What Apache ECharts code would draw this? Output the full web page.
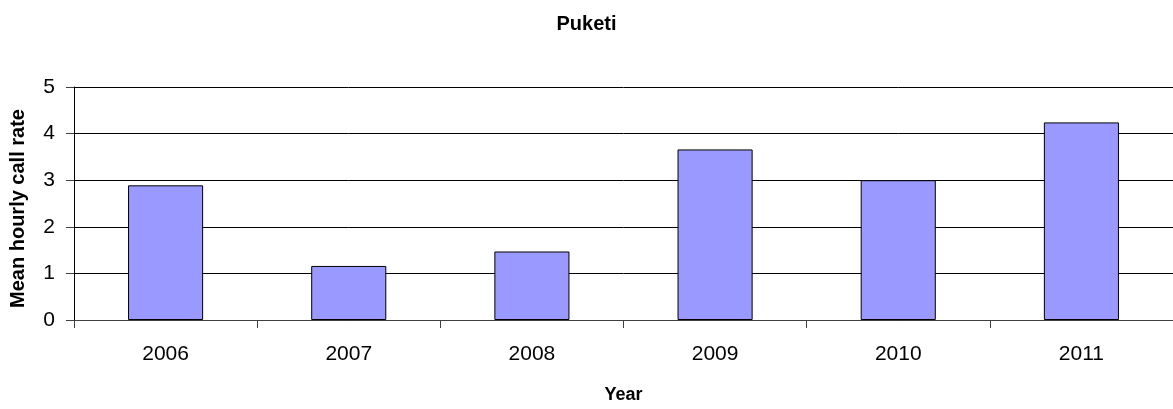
<!DOCTYPE html>
<html>
<head>
<meta charset="utf-8">
<script src="https://cdn.jsdelivr.net/npm/echarts@6/dist/echarts.min.js"></script>
<style>
html, body { margin: 0; padding: 0; background: #fff; }
#chart { width: 1173px; height: 409px; }
</style>
</head>
<body>
<div id="chart"></div>
<script>
// data
const years = ['2006', '2007', '2008', '2009', '2010', '2011'];
const callRate = [2.89, 1.16, 1.47, 3.66, 3.0, 4.24];

const chart = echarts.init(document.getElementById('chart'));
const font = 'Liberation Sans, Arial, sans-serif';

chart.setOption({
    animation: false,
    title: {
        text: 'Puketi',
        left: 'center',
        top: 9,
        textStyle: { fontFamily: font, fontSize: 20, fontWeight: 'bold', color: '#000' }
    },
    // the plot area runs a few px past the right edge of the picture
    grid: { left: 72, width: 1105, top: 87, bottom: 85 },
    xAxis: {
        type: 'category',
        data: years,
        name: 'Year',
        nameLocation: 'middle',
        nameGap: 66,
        nameTextStyle: { fontFamily: font, fontSize: 18, fontWeight: 'bold', color: '#000' },
        axisLine: { lineStyle: { color: '#404040', width: 1 } },
        axisTick: { show: true, length: 8, lineStyle: { color: '#404040' } },
        axisLabel: { fontFamily: font, fontSize: 21, color: '#000', margin: 24 }
    },
    yAxis: {
        type: 'value',
        min: 0,
        max: 5,
        interval: 1,
        name: 'Mean hourly call rate',
        nameLocation: 'middle',
        nameGap: 46,
        nameTextStyle: { fontFamily: font, fontSize: 20, fontWeight: 'bold', color: '#000', padding: [0, 10, 0, 0] },
        axisLine: { show: true, lineStyle: { color: '#000', width: 1 } },
        axisTick: { show: true, length: 8, lineStyle: { color: '#404040' } },
        axisLabel: { fontFamily: font, fontSize: 21, color: '#000', margin: 19 },
        splitLine: { lineStyle: { color: '#000', width: 1 } }
    },
    series: [{
        type: 'bar',
        data: callRate,
        barWidth: '41%',
        itemStyle: { color: '#9999ff', borderColor: '#000', borderWidth: 1 }
    }]
});
</script>
</body>
</html>
